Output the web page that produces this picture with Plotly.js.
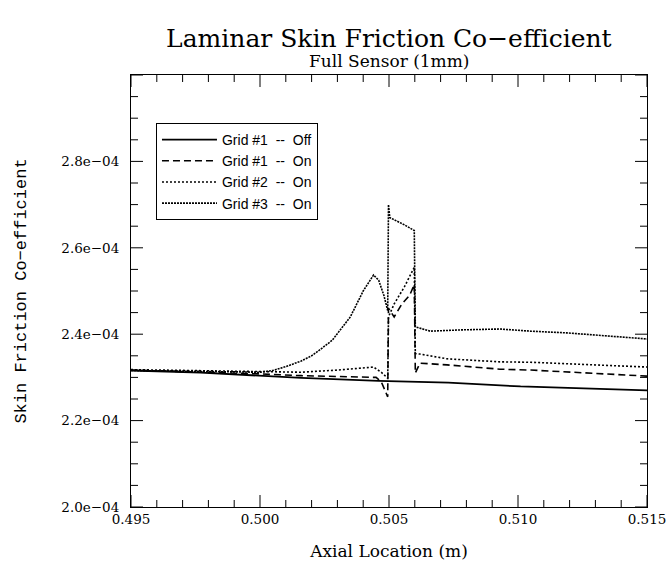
<!DOCTYPE html>
<html>
<head>
<meta charset="utf-8">
<script src="https://cdn.plot.ly/plotly-3.0.1.min.js"></script>
<style>html,body{margin:0;padding:0;background:#fff;}#chart{width:667px;height:569px;}</style>
</head>
<body>
<div id="chart"></div>
<script>
// Grid #1 -- Off (solid)
const x_g1off = [0.495, 0.4977, 0.5016, 0.5046, 0.5073, 0.5093, 0.5101, 0.515];
const y_g1off = [2.316e-4, 2.311e-4, 2.299e-4, 2.292e-4, 2.288e-4, 2.282e-4, 2.279e-4, 2.270e-4];

// Grid #1 -- On (dashed)
const x_g1on = [0.495, 0.4977, 0.500, 0.5016, 0.503, 0.5045, 0.5047, 0.5049, 0.50495, 0.50498, 0.5052, 0.5055, 0.5058, 0.50598, 0.50602, 0.5062, 0.50725, 0.5093, 0.5105, 0.515];
const y_g1on = [2.317e-4, 2.313e-4, 2.308e-4, 2.304e-4, 2.302e-4, 2.300e-4, 2.290e-4, 2.265e-4, 2.255e-4, 2.460e-4, 2.440e-4, 2.470e-4, 2.490e-4, 2.515e-4, 2.310e-4, 2.333e-4, 2.329e-4, 2.319e-4, 2.317e-4, 2.303e-4];

// Grid #2 -- On (dotted)
const x_g2on = [0.495, 0.4977, 0.500, 0.5016, 0.503, 0.5038, 0.5044, 0.5047, 0.5049, 0.50495, 0.50498, 0.5052, 0.5056, 0.50598, 0.50602, 0.5062, 0.50725, 0.5093, 0.5105, 0.515];
const y_g2on = [2.318e-4, 2.315e-4, 2.313e-4, 2.312e-4, 2.317e-4, 2.322e-4, 2.324e-4, 2.312e-4, 2.300e-4, 2.298e-4, 2.440e-4, 2.470e-4, 2.510e-4, 2.555e-4, 2.355e-4, 2.354e-4, 2.343e-4, 2.336e-4, 2.335e-4, 2.324e-4];

// Grid #3 -- On (dense dotted)
const x_g3on = [0.495, 0.4977, 0.500, 0.5005, 0.501, 0.5016, 0.502, 0.5023, 0.5028, 0.5035, 0.504, 0.5044, 0.5046, 0.5048, 0.5049, 0.50495, 0.50498, 0.50503, 0.5056, 0.50598, 0.50602, 0.5066, 0.5078, 0.5093, 0.5105, 0.5119, 0.515];
const y_g3on = [2.316e-4, 2.313e-4, 2.312e-4, 2.316e-4, 2.325e-4, 2.338e-4, 2.350e-4, 2.363e-4, 2.386e-4, 2.440e-4, 2.500e-4, 2.537e-4, 2.525e-4, 2.490e-4, 2.465e-4, 2.455e-4, 2.700e-4, 2.670e-4, 2.653e-4, 2.640e-4, 2.417e-4, 2.407e-4, 2.410e-4, 2.412e-4, 2.407e-4, 2.403e-4, 2.389e-4];

const seriesNames = ["Grid #1 \u00a0-- \u00a0Off", "Grid #1 \u00a0-- \u00a0On", "Grid #2 \u00a0-- \u00a0On", "Grid #3 \u00a0-- \u00a0On"];

const xTickVals = [0.495, 0.500, 0.505, 0.510, 0.515];
const xTickText = ["0.495", "0.500", "0.505", "0.510", "0.515"];
const yTickVals = [2.0e-4, 2.2e-4, 2.4e-4, 2.6e-4, 2.8e-4];
const yTickText = ["2.0e\u221204", "2.2e\u221204", "2.4e\u221204", "2.6e\u221204", "2.8e\u221204"];

const serif = "DejaVu Serif, serif";

const traces = [
  {x: x_g1off, y: y_g1off, name: seriesNames[0], mode: "lines", line: {color: "#000", width: 1.8, dash: "solid"}},
  {x: x_g1on, y: y_g1on, name: seriesNames[1], mode: "lines", line: {color: "#000", width: 1.6, dash: "7px,4px"}},
  {x: x_g2on, y: y_g2on, name: seriesNames[2], mode: "lines", line: {color: "#000", width: 1.6, dash: "2px,2px"}},
  {x: x_g3on, y: y_g3on, name: seriesNames[3], mode: "lines", line: {color: "#000", width: 1.6, dash: "2px,1px"}}
];

// Inward tick marks (major + minor) on all four sides, placed through the axes' own scales
const tickShapes = [];
const tickLine = {color: "#000", width: 1};
for (let i = 0; i <= 20; i++) {
  const v = 0.495 + i * 0.001;
  const len = (i % 5 === 0) ? 12 : 7;
  tickShapes.push({type: "line", xref: "x", yref: "paper", x0: v, x1: v, ysizemode: "pixel", yanchor: 0, y0: 0, y1: len, line: tickLine, layer: "above"});
  tickShapes.push({type: "line", xref: "x", yref: "paper", x0: v, x1: v, ysizemode: "pixel", yanchor: 1, y0: 0, y1: -len, line: tickLine, layer: "above"});
}
for (let i = 0; i <= 20; i++) {
  const v = 2.0e-4 + i * 0.05e-4;
  const len = (i % 4 === 0) ? 12 : 7;
  tickShapes.push({type: "line", yref: "y", xref: "paper", y0: v, y1: v, xsizemode: "pixel", xanchor: 0, x0: 0, x1: len, line: tickLine, layer: "above"});
  tickShapes.push({type: "line", yref: "y", xref: "paper", y0: v, y1: v, xsizemode: "pixel", xanchor: 1, x0: 0, x1: -len, line: tickLine, layer: "above"});
}

function common() {
  return {
    showgrid: false, zeroline: false, showline: true, linecolor: "#000", linewidth: 1,
    mirror: true, ticks: "", tickfont: {family: serif, size: 13.5, color: "#000"}
  };
}

const layout = {
  width: 667, height: 569,
  margin: {l: 131, r: 20, t: 75, b: 62},
  paper_bgcolor: "#fff", plot_bgcolor: "#fff",
  showlegend: true,
  title: {text: "Laminar Skin Friction Co\u2212efficient", font: {family: serif, size: 25, color: "#000"}, x: 0.583, xanchor: "center", y: 1 - 38/569, yanchor: "middle", yref: "container"},
  annotations: [
    {text: "Full Sensor (1mm)", xref: "paper", yref: "paper", x: 0.5, y: 1.0, yshift: 14, xanchor: "center", yanchor: "middle", showarrow: false, font: {family: serif, size: 17, color: "#000"}}
  ],
  shapes: tickShapes,
  xaxis: Object.assign(common(), {
    range: [0.495, 0.515], tickvals: xTickVals, ticktext: xTickText,
    title: {text: "Axial Location (m)", font: {family: serif, size: 17, color: "#000"}, standoff: 18}
  }),
  yaxis: Object.assign(common(), {
    range: [2.0e-4, 3.0e-4], tickvals: yTickVals, ticktext: yTickText, ticklabelstandoff: 8,
    title: {text: "Skin Friction Co\u2212efficient", font: {family: "Liberation Mono, monospace", size: 17, color: "#000"}, standoff: 30}
  }),
  legend: {
    x: 0.0484, y: 0.889, xanchor: "left", yanchor: "top",
    bordercolor: "#000", borderwidth: 1, bgcolor: "#fff",
    font: {family: "Liberation Sans, sans-serif", size: 14, color: "#000"},
    itemwidth: 55
  }
};

Plotly.newPlot("chart", traces, layout, {displayModeBar: false, staticPlot: true});
</script>
</body>
</html>
